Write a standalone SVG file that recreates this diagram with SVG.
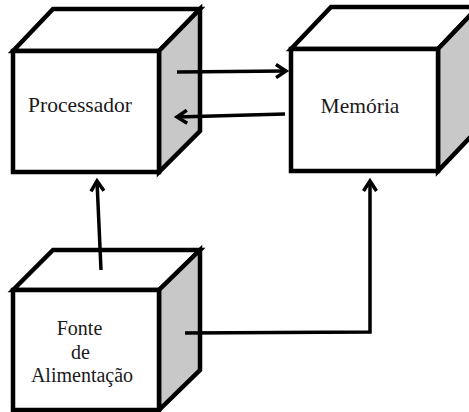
<svg xmlns="http://www.w3.org/2000/svg" width="469" height="412" viewBox="0 0 469 412">
  <style>
    .face { fill: #ffffff; stroke: #000; stroke-width: 4.5; stroke-linejoin: miter; }
    .side { fill: #c8c8c8; stroke: #000; stroke-width: 4.5; stroke-linejoin: miter; }
    .label { font-family: 'Liberation Serif', 'DejaVu Serif', serif; fill: #1a1a1a; text-anchor: middle; }
    .wire { fill: none; stroke: #000; stroke-width: 3.5; }
  </style>
  <defs>
    <marker id="head" markerWidth="16" markerHeight="16" refX="12" refY="8" orient="auto" markerUnits="userSpaceOnUse">
      <path d="M2,1.5 L12,8 L2,14.5" fill="none" stroke="#000" stroke-width="3.5"/>
    </marker>
  </defs>
  <rect width="469" height="412" fill="#fff"/>

  <g id="processador">
    <polygon class="face" points="13,51 53,9 200,9 159,51"/>
    <polygon class="side" points="159,51 200,9 200,131 159,172"/>
    <rect class="face" x="13" y="51" width="146" height="121"/>
    <text class="label" x="80" y="112" font-size="21.5">Processador</text>
  </g>

  <g id="memoria">
    <polygon class="face" points="291,49 331,7 478,7 438,49"/>
    <polygon class="side" points="438,49 478,7 478,129 438,171"/>
    <rect class="face" x="291" y="49" width="147" height="122"/>
    <text class="label" x="360" y="113" font-size="21.5">Memória</text>
  </g>

  <g id="fonte">
    <polygon class="face" points="13,290 53,250 200,250 159,290"/>
    <polygon class="side" points="159,290 200,250 200,370 159,410"/>
    <rect class="face" x="13" y="290" width="146" height="120"/>
    <text class="label" font-size="20">
      <tspan x="82" y="335">Fonte</tspan>
      <tspan x="83" y="359">de</tspan>
      <tspan x="82" y="382">Alimentação</tspan>
    </text>
  </g>

  <g id="connectors">
    <line class="wire" x1="177" y1="72" x2="286" y2="71" marker-end="url(#head)"/>
    <line class="wire" x1="285" y1="114" x2="177" y2="117" marker-end="url(#head)"/>
    <line class="wire" x1="101" y1="270" x2="97" y2="181" marker-end="url(#head)"/>
    <polyline class="wire" points="185,333 370,332 370,181" marker-end="url(#head)"/>
  </g>
</svg>
